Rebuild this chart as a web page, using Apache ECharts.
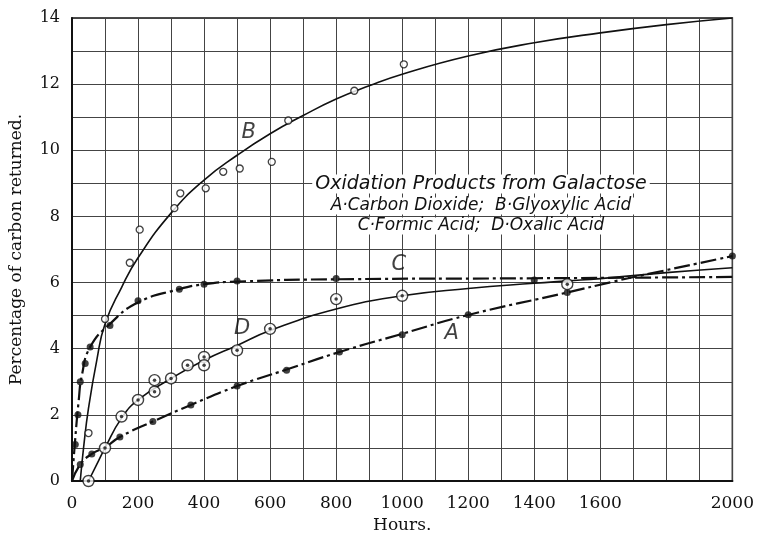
<!DOCTYPE html>
<html>
<head>
<meta charset="utf-8">
<script src="https://cdn.jsdelivr.net/npm/echarts@6/dist/echarts.min.js"></script>
<style>
  html, body { margin: 0; padding: 0; background: #fff; }
  #chart { width: 757px; height: 539px; }
</style>
</head>
<body>
<div id="chart"></div>
<script>
// fitted curves [hours, %]
const curveA = [[0,0],[25,0.5],[60,0.82],[100,1.02],[145,1.33],[245,1.8],[360,2.3],[500,2.87],[650,3.37],[810,3.9],[1000,4.45],[1200,5.02],[1500,5.7],[1640,6.03],[1750,6.27],[2000,6.8]];
const curveB = [[25,0],[35,1.0],[50,2.2],[75,3.65],[100,4.75],[150,5.85],[200,6.75],[300,8.1],[400,9.1],[500,9.85],[600,10.5],[700,11.05],[800,11.55],[900,11.95],[1000,12.3],[1200,12.85],[1400,13.25],[1600,13.55],[1800,13.8],[2000,14.0]];
const curveC = [[0,0],[10,1.3],[20,2.4],[30,3.2],[55,4.05],[115,4.75],[200,5.4],[325,5.8],[400,5.95],[500,6.03],[800,6.1],[1400,6.13],[2000,6.17]];
const curveD = [[50,0],[75,0.5],[100,1.0],[150,1.9],[200,2.45],[300,3.1],[400,3.65],[500,4.1],[600,4.55],[800,5.2],[1000,5.6],[1200,5.82],[1400,5.98],[1500,6.05],[1600,6.12],[1800,6.3],[2000,6.45]];

// observed points
const pointsA = [[25,0.5],[60,0.82],[145,1.33],[245,1.8],[360,2.3],[500,2.87],[650,3.35],[810,3.9],[1000,4.42],[1200,5.03],[1500,5.7],[2000,6.8]];
const pointsB = [[50,1.45],[100,4.9],[175,6.6],[205,7.6],[310,8.25],[328,8.7],[405,8.85],[458,9.35],[508,9.45],[605,9.65],[655,10.9],[855,11.8],[1005,12.6]];
const pointsC = [[10,1.1],[18,2.0],[25,3.0],[40,3.55],[55,4.05],[115,4.7],[200,5.45],[325,5.8],[400,5.95],[500,6.05],[800,6.12],[1400,6.08]];
const pointsD = [[50,0],[100,1.0],[150,1.95],[200,2.45],[250,3.05],[250,2.7],[300,3.1],[350,3.5],[400,3.75],[400,3.5],[500,3.95],[600,4.6],[800,5.5],[1000,5.6],[1500,5.95]];

// curve letters
const curveLetters = [[535,10.55,'B'],[990,6.55,'C'],[515,4.6,'D'],[1150,4.45,'A']];

const xTickLabels = [0,200,400,600,800,1000,1200,1400,1600,2000];
const yTickLabels = [0,2,4,6,8,10,12,14];

const legendLines = [
  'Oxidation Products from Galactose',
  'A\u00b7Carbon Dioxide;  B\u00b7Glyoxylic Acid',
  'C\u00b7Formic Acid;  D\u00b7Oxalic Acid'
];

const serif = '"DejaVu Serif", "Liberation Serif", serif';
const ink = '#111';

const chart = echarts.init(document.getElementById('chart'), null, { renderer: 'canvas' });

const curveLine = (data, width, type) => ({
  type: 'line', data, smooth: 0.5, showSymbol: false, z: 3,
  lineStyle: { color: ink, width, type: type || 'solid' }
});

const option = {
  backgroundColor: '#fff',
  animation: false,
  grid: { left: 69, right: 24, top: 18, bottom: 56, show: true, borderColor: ink, borderWidth: 1.5 },
  xAxis: {
    type: 'value', min: 0, max: 2000, interval: 100,
    name: 'Hours.', nameLocation: 'middle', nameGap: 36,
    nameTextStyle: { fontFamily: serif, fontSize: 17, color: ink },
    axisLine: { show: true, lineStyle: { color: ink, width: 2 } },
    axisTick: { show: false },
    axisLabel: {
      margin: 14, fontFamily: serif, fontSize: 17, color: ink,
      formatter: (v) => xTickLabels.includes(v) ? String(v) : ''
    },
    splitLine: { show: true, lineStyle: { color: '#444', width: 1 } }
  },
  yAxis: {
    type: 'value', min: 0, max: 14, interval: 1,
    name: 'Percentage of carbon returned.', nameLocation: 'middle', nameGap: 47,
    nameTextStyle: { fontFamily: serif, fontSize: 17, color: ink },
    axisLine: { show: true, lineStyle: { color: ink, width: 2 } },
    axisTick: { show: false },
    axisLabel: {
      margin: 12, fontFamily: serif, fontSize: 16, color: ink,
      formatter: (v) => yTickLabels.includes(v) ? String(v) : ''
    },
    splitLine: { show: true, lineStyle: { color: '#444', width: 1 } }
  },
  graphic: legendLines.map((t, i) => ({
    type: 'text', z: 100,
    x: 481, y: [184, 206, 226][i],
    style: {
      text: t, align: 'center', verticalAlign: 'middle',
      fontStyle: 'italic', fontSize: i === 0 ? 19 : 17, fontFamily: '"DejaVu Sans", sans-serif',
      fill: ink, backgroundColor: '#fff', padding: [0, 3]
    }
  })),
  series: [
    curveLine(curveB, 1.6),
    curveLine(curveD, 1.6),
    curveLine(curveC, 2.2, [16, 4, 3, 4]),
    curveLine(curveA, 2.2, [16, 4, 3, 4]),
    { type: 'scatter', data: pointsB, symbol: 'circle', symbolSize: 7, itemStyle: { color: '#fff', borderColor: ink, borderWidth: 1.3 }, z: 5 },
    { type: 'scatter', data: pointsA, symbol: 'circle', symbolSize: 7, itemStyle: { color: ink }, z: 5 },
    { type: 'scatter', data: pointsC, symbol: 'circle', symbolSize: 7, itemStyle: { color: ink }, z: 5 },
    { type: 'scatter', data: pointsD, symbol: 'circle', symbolSize: 11, itemStyle: { color: '#fff', borderColor: ink, borderWidth: 1.4 }, z: 5 },
    { type: 'scatter', data: pointsD, symbol: 'circle', symbolSize: 3.5, itemStyle: { color: ink }, z: 6 },
    {
      type: 'scatter', data: curveLetters, symbolSize: 1, itemStyle: { color: 'transparent' }, z: 7,
      label: {
        show: true, position: 'inside', formatter: (p) => p.value[2],
        fontStyle: 'italic', fontSize: 21, fontFamily: '"DejaVu Sans", sans-serif', color: ink
      }
    }
  ]
};

chart.setOption(option);
</script>
</body>
</html>
